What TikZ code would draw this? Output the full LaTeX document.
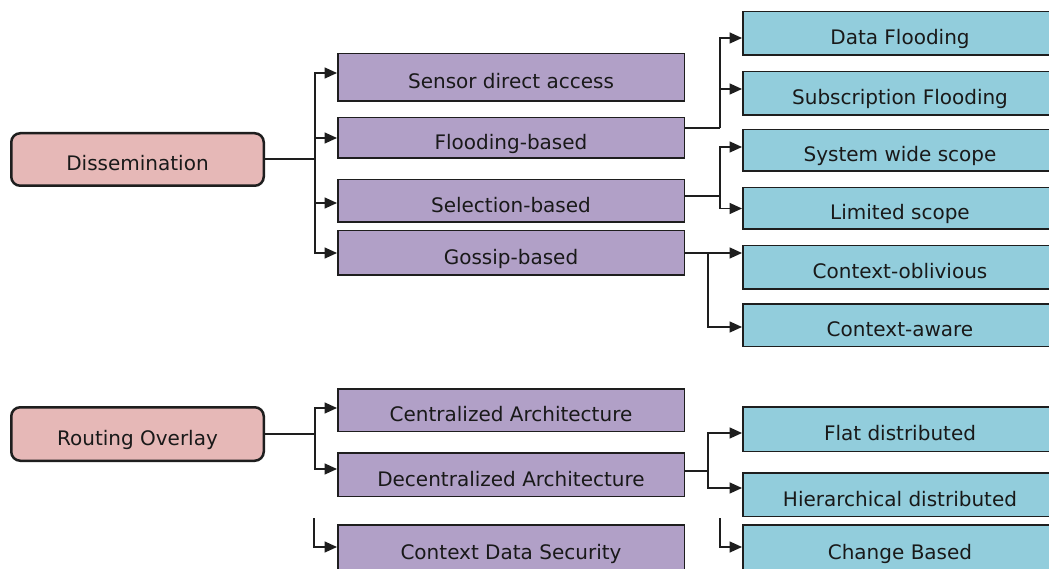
\documentclass[tikz,border=0pt]{standalone}
\usepackage{fontspec}
\setmainfont{DejaVu Sans}
\usetikzlibrary{arrows.meta,calc}
\definecolor{pinkfill}{HTML}{E6B8B7}
\definecolor{purplefill}{HTML}{B1A0C7}
\definecolor{bluefill}{HTML}{92CDDC}
\definecolor{edgec}{HTML}{1E1E1E}
\begin{document}
\begin{tikzpicture}[x=1pt,y=-1pt,
  every node/.style={font=\fontsize{20}{24}\selectfont, text=black!90, text height=23pt, text depth=0pt},
  rootbox/.style={draw=edgec, line width=2.5pt, rounded corners=9pt, fill=pinkfill, minimum width=252.5pt},
  midbox/.style={draw=edgec, line width=1.5pt, fill=purplefill, minimum width=346.5pt},
  leafbox/.style={draw=edgec, line width=1.5pt, fill=bluefill, minimum width=314.5pt},
  link/.style={draw=edgec, line width=1.6pt},
  arrowlink/.style={link, -{Triangle[length=12.5pt,width=11pt]}}
]
\useasboundingbox (0,0) rectangle (1049,569);
\clip (0,0) rectangle (1049,569);
\fill[white] (0,0) rectangle (1049,569);

% roots
\node[rootbox, minimum height=52.5pt] (diss) at (137.5,159.5) {Dissemination};
\node[rootbox, minimum height=53.5pt] (rout) at (137.5,434) {Routing Overlay};

% middle level
\node[midbox, minimum height=47.5pt] (sensor) at (511,77.5) {Sensor direct access};
\node[midbox, minimum height=40.5pt] (flood) at (511,138) {Flooding-based};
\node[midbox, minimum height=42.5pt] (sel) at (511,201) {Selection-based};
\node[midbox, minimum height=44.5pt] (gossip) at (511,253) {Gossip-based};
\node[midbox, minimum height=42.5pt] (central) at (511,410) {Centralized Architecture};
\node[midbox, minimum height=43.5pt] (decentral) at (511,474.5) {Decentralized Architecture};
\node[midbox, minimum height=46.5pt] (cds) at (511,548) {Context Data Security};

% leaves
\node[leafbox, minimum height=43.5pt] (dataf) at (900,33.5) {Data Flooding};
\node[leafbox, minimum height=43.5pt] (subf) at (900,93.5) {Subscription Flooding};
\node[leafbox, minimum height=41.5pt] (sysw) at (900,150.5) {System wide scope};
\node[leafbox, minimum height=41.5pt] (limit) at (900,208.5) {Limited scope};
\node[leafbox, minimum height=43.5pt] (cobl) at (900,267.5) {Context-oblivious};
\node[leafbox, minimum height=42.5pt] (caw) at (900,325) {Context-aware};
\node[leafbox, minimum height=44.5pt] (flat) at (900,429) {Flat distributed};
\node[leafbox, minimum height=43.5pt] (hier) at (900,494.5) {Hierarchical distributed};
\node[leafbox, minimum height=46.5pt] (change) at (900,548) {Change Based};

% junctions
\coordinate (j1) at (315,159);
\coordinate (j2) at (720,128);
\coordinate (j3) at (720,196);
\coordinate (j4) at (708,253);
\coordinate (j5) at (315,434);
\coordinate (j6) at (708,471);
\coordinate (s1) at (314,518);
\coordinate (s2) at (720,518);

% connectors
\draw[link] ([yshift=0.5pt]diss.east) -- (j1);
\draw[arrowlink] (j1) |- ([yshift=4.5pt]sensor.west);
\draw[arrowlink] (j1) |- (flood.west);
\draw[arrowlink] (j1) |- ([yshift=-2pt]sel.west);
\draw[arrowlink] (j1) |- (gossip.west);

\draw[link] ([yshift=10pt]flood.east) -- (j2);
\draw[arrowlink] (j2) |- ([yshift=-4.5pt]dataf.west);
\draw[arrowlink] (j2) |- ([yshift=4.5pt]subf.west);

\draw[link] ([yshift=5pt]sel.east) -- (j3);
\draw[arrowlink] (j3) |- ([yshift=3.5pt]sysw.west);
\draw[arrowlink] (j3) |- (limit.west);

\draw[link] (gossip.east) -- (j4);
\draw[arrowlink] (j4) |- ([yshift=14.5pt]cobl.west);
\draw[arrowlink] (j4) |- ([yshift=-2pt]caw.west);

\draw[link] (rout.east) -- (j5);
\draw[arrowlink] (j5) |- ([yshift=2pt]central.west);
\draw[arrowlink] (j5) |- ([yshift=5.5pt]decentral.west);

\draw[link] ([yshift=3.5pt]decentral.east) -- (j6);
\draw[arrowlink] (j6) |- ([yshift=-4pt]flat.west);
\draw[arrowlink] (j6) |- ([yshift=6.5pt]hier.west);

\draw[arrowlink] (s1) |- ([yshift=1pt]cds.west);
\draw[arrowlink] (s2) |- ([yshift=1pt]change.west);
\end{tikzpicture}
\end{document}
